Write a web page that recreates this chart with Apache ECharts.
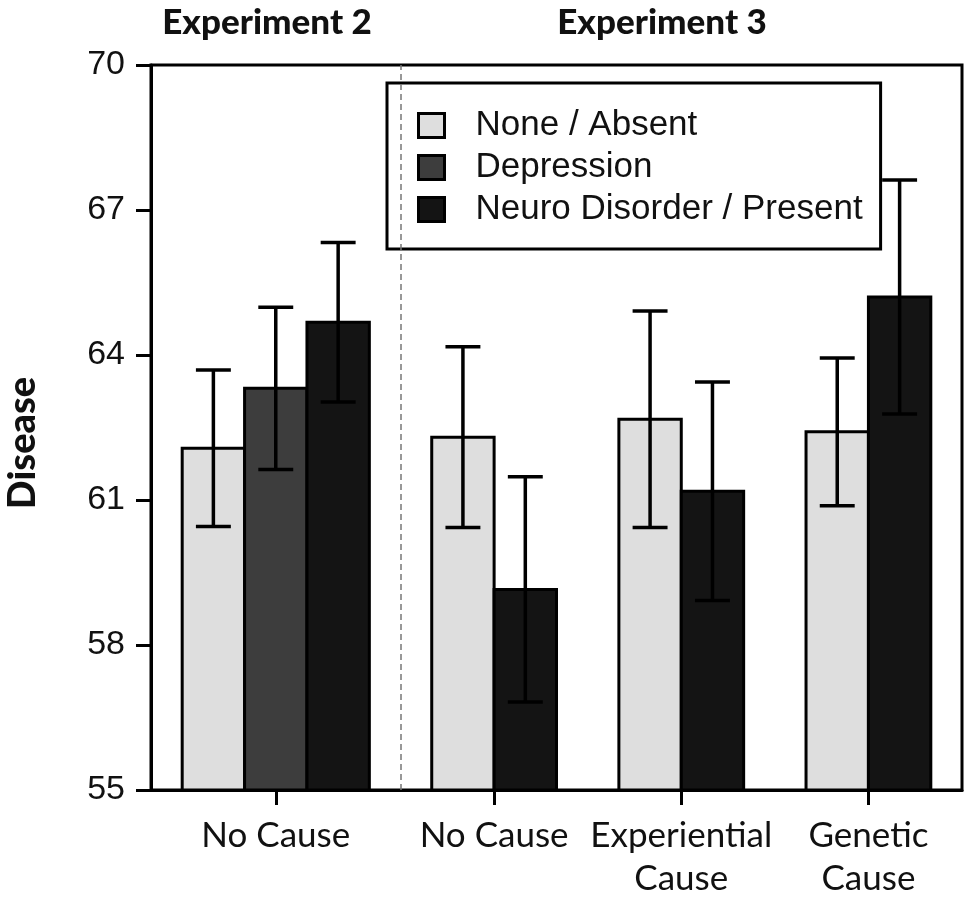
<!DOCTYPE html>
<html>
<head>
<meta charset="utf-8">
<script src="https://cdn.jsdelivr.net/npm/echarts@6/dist/echarts.min.js"></script>
<style>
  html, body { margin: 0; padding: 0; background: #fff; }
  #chart { width: 970px; height: 897px; }
</style>
</head>
<body>
<div id="chart"></div>
<script>
// data
const groupLabels = ['No Cause', 'No Cause', 'Experiential\nCause', 'Genetic\nCause']
const groupExperiment = [0, 1, 1, 1]
const experimentNames = ['Experiment 2', 'Experiment 3']
const conditionNames = ['None / Absent', 'Depression', 'Neuro Disorder / Present']
const noneMeans = [62.07, 62.30, 62.67, 62.41]
const noneErrs = [1.62, 1.87, 2.24, 1.53]
const depressionMeans = [63.31, null, null, null]
const depressionErrs = [1.68, null, null, null]
const neuroMeans = [64.68, 59.15, 61.18, 65.20]
const neuroErrs = [1.65, 2.33, 2.26, 2.42]
const yTicks = [55, 58, 61, 64, 67, 70]
const yTitle = 'Disease'

const colors = ['#dedede', '#3d3d3d', '#141414']
const seriesMeans = [noneMeans, depressionMeans, neuroMeans]
const seriesErrs = [noneErrs, depressionErrs, neuroErrs]

// lay the bars out one unit wide, one unit of gap between groups
let cursor = 0.5
const barData = [[], [], []]
const groupCenter = []
const splitX = []
groupLabels.forEach((g, gi) => {
  if (gi > 0 && groupExperiment[gi] !== groupExperiment[gi - 1]) splitX.push(cursor - 0.5)
  const start = cursor
  seriesMeans.forEach((m, si) => {
    if (m[gi] != null) {
      barData[si].push([cursor + 0.5, m[gi], seriesErrs[si][gi]])
      cursor += 1
    }
  })
  groupCenter.push((start + cursor) / 2)
  cursor += 1
})
const xMax = cursor - 0.5
const yMin = yTicks[0]
const yMax = yTicks[yTicks.length - 1]

const renderBar = (params, api) => {
  const x = api.value(0)
  const mean = api.value(1)
  const err = api.value(2)
  const p0 = api.coord([x - 0.5, yMin])
  const p1 = api.coord([x + 0.5, mean])
  const top = api.coord([x, mean + err])
  const bot = api.coord([x, mean - err])
  const cap = api.size([0.28, 0])[0]
  const errStyle = { stroke: '#000', lineWidth: 3.5 }
  return {
    type: 'group',
    children: [
      {
        type: 'rect',
        shape: { x: p0[0], y: p1[1], width: p1[0] - p0[0], height: p0[1] - p1[1] },
        style: { fill: colors[params.seriesIndex], stroke: '#000', lineWidth: 3 }
      },
      { type: 'line', shape: { x1: top[0], y1: top[1], x2: bot[0], y2: bot[1] }, style: errStyle },
      { type: 'line', shape: { x1: top[0] - cap, y1: top[1], x2: top[0] + cap, y2: top[1] }, style: errStyle },
      { type: 'line', shape: { x1: bot[0] - cap, y1: bot[1], x2: bot[0] + cap, y2: bot[1] }, style: errStyle }
    ]
  }
}

const chart = echarts.init(document.getElementById('chart'))

const series = conditionNames.map((name, si) => ({
  name,
  type: 'custom',
  renderItem: renderBar,
  itemStyle: { color: colors[si], borderColor: '#000', borderWidth: 3 },
  encode: { x: 0, y: 1 },
  data: barData[si],
  z: 3
}))
// dashed divider between the experiments
series[0].markLine = {
  silent: true,
  symbol: ['none', 'none'],
  label: { show: false },
  lineStyle: { color: '#777', width: 1.5, type: [6, 4] },
  data: splitX.map(v => ({ xAxis: v }))
}

chart.setOption({
  animation: false,
  backgroundColor: '#fff',
  grid: {
    left: 151, right: 8, top: 65, bottom: 107,
    containLabel: false, outerBoundsMode: 'none',
    show: true, borderColor: '#000', borderWidth: 3
  },
  legend: {
    orient: 'vertical',
    left: 387, top: 83,
    padding: [25, 18, 22, 30],
    borderColor: '#000', borderWidth: 3,
    backgroundColor: '#fff',
    icon: 'rect',
    itemWidth: 26, itemHeight: 24,
    itemGap: 7,
    itemStyle: { borderColor: '#000', borderWidth: 3 },
    textStyle: {
      fontFamily: 'Liberation Sans', fontSize: 35, color: '#111',
      lineHeight: 35, padding: [0, 0, 0, 26]
    },
    data: conditionNames
  },
  xAxis: {
    type: 'value',
    min: 0, max: xMax,
    axisLine: { show: true, lineStyle: { color: '#000', width: 3 } },
    splitLine: { show: false },
    axisTick: {
      show: true, customValues: groupCenter, length: 15,
      lineStyle: { color: '#000', width: 3 }
    },
    axisLabel: {
      customValues: groupCenter,
      formatter: v => {
        const i = groupCenter.findIndex(c => Math.abs(c - v) < 1e-6)
        return i >= 0 ? groupLabels[i] : ''
      },
      fontFamily: 'Lato', fontSize: 35, color: '#111',
      lineHeight: 43, margin: 24
    }
  },
  yAxis: {
    type: 'value',
    min: yMin, max: yMax, interval: yTicks[1] - yTicks[0],
    axisLine: { show: true, lineStyle: { color: '#000', width: 3 } },
    axisTick: { show: true, length: 15, lineStyle: { color: '#000', width: 3 } },
    splitLine: { show: false },
    axisLabel: { fontFamily: 'Liberation Sans', fontSize: 34, color: '#111', margin: 26 }
  },
  graphic: [
    { type: 'text', x: 267, y: 23, style: { text: experimentNames[0], font: '900 35px Lato', fill: '#111', align: 'center', verticalAlign: 'middle' } },
    { type: 'text', x: 662, y: 23, style: { text: experimentNames[1], font: '900 35px Lato', fill: '#111', align: 'center', verticalAlign: 'middle' } },
    { type: 'text', x: 23, y: 443, rotation: Math.PI / 2, style: { text: yTitle, font: '900 38px Lato', fill: '#111', align: 'center', verticalAlign: 'middle' } }
  ],
  series
})
</script>
</body>
</html>
